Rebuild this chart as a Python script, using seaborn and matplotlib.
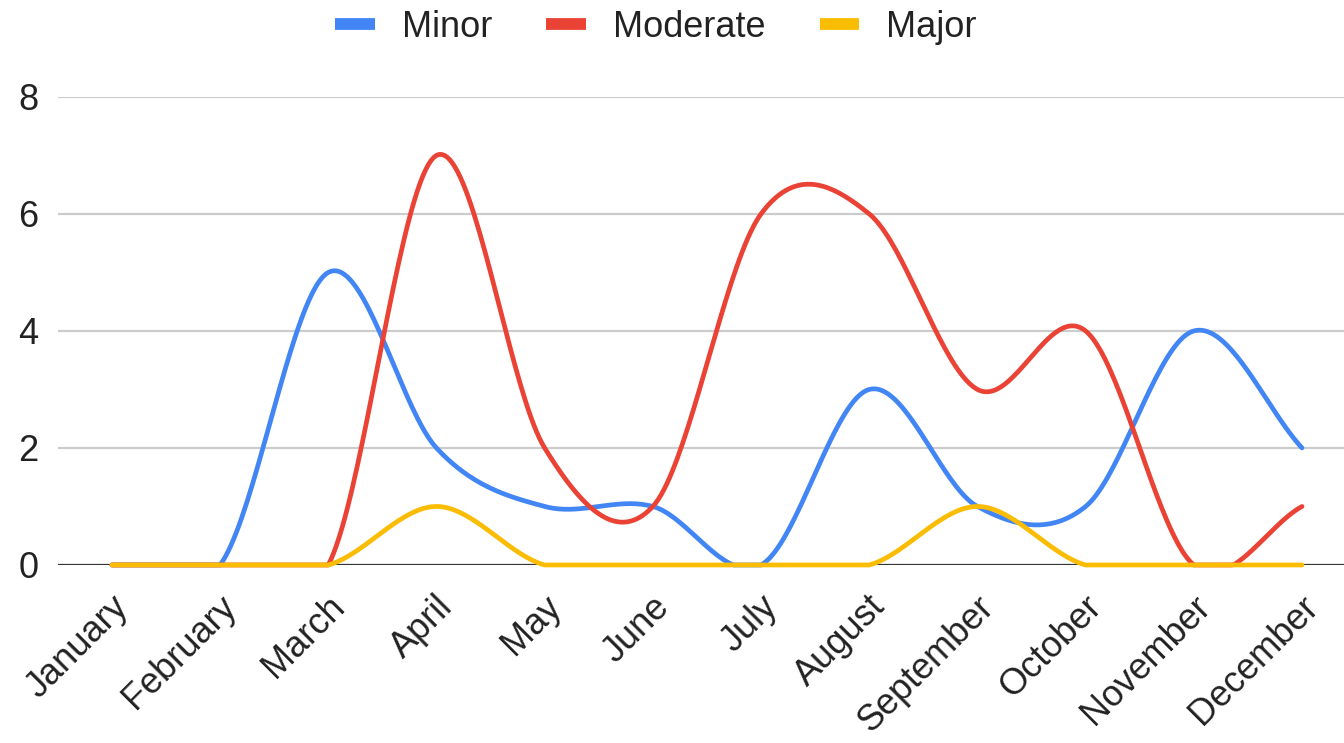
import numpy as np
import pandas as pd
import seaborn as sns
import matplotlib.pyplot as plt
import matplotlib.transforms as mtransforms
from matplotlib.lines import Line2D

# data
months = ['January', 'February', 'March', 'April', 'May', 'June',
          'July', 'August', 'September', 'October', 'November', 'December']
minor = [0, 0, 5, 2, 1, 1, 0, 3, 1, 1, 4, 2]
moderate = [0, 0, 0, 7, 2, 1, 6, 6, 3, 4, 0, 1]
major = [0, 0, 0, 1, 0, 0, 0, 0, 1, 0, 0, 0]
yticks = [0, 2, 4, 6, 8]

series = {'Minor': minor, 'Moderate': moderate, 'Major': major}
colors = {'Minor': '#4285F4', 'Moderate': '#EA4335', 'Major': '#FBBC04'}


def smooth(vals, steps=40):
    # Catmull-Rom style curve through the points, clipped at the baseline
    y = np.asarray(vals, dtype=float)
    n = len(y)
    m = np.zeros(n)
    m[1:-1] = (y[2:] - y[:-2]) / 2
    m[0] = y[1] - y[0]
    m[-1] = y[-1] - y[-2]
    xs, ys = [], []
    for i in range(n - 1):
        t = np.linspace(0, 1, steps, endpoint=False)
        h00 = 2 * t**3 - 3 * t**2 + 1
        h10 = t**3 - 2 * t**2 + t
        h01 = -2 * t**3 + 3 * t**2
        h11 = t**3 - t**2
        xs.extend(i + t)
        ys.extend(h00 * y[i] + h10 * m[i] + h01 * y[i + 1] + h11 * m[i + 1])
    xs.append(n - 1)
    ys.append(y[-1])
    return np.array(xs), np.clip(np.array(ys), 0, None)


frames = []
for name, vals in series.items():
    xs, ys = smooth(vals)
    frames.append(pd.DataFrame({'x': xs, 'y': ys, 'series': name}))
df = pd.concat(frames, ignore_index=True)

sns.set_style('white')
plt.rcParams['font.family'] = ['Liberation Sans', 'DejaVu Sans']

fig = plt.figure(figsize=(13.44, 7.43), dpi=100)
ax = fig.add_axes([0.043, 0.2396, 0.966, 0.63])

for y in yticks[1:]:
    ax.axhline(y, color='#cccccc', lw=1.6, zorder=0)
ax.axhline(0, color='#333333', lw=1.6, zorder=1)

sns.lineplot(data=df, x='x', y='y', hue='series', palette=colors,
             sort=False, estimator=None, lw=3.4, legend=False, ax=ax,
             zorder=3)
for line in ax.lines[-3:]:
    line.set_clip_on(False)

ax.set_xlim(-0.5, 11.5)
ax.set_ylim(0, 8)
ax.tick_params(axis='y', length=0, pad=14)
ax.tick_params(axis='x', length=0, pad=22)
ax.set_yticks(yticks)
ax.set_yticklabels([str(v) for v in yticks], fontsize=26, color='#222222')
ax.set_xticks(range(len(months)))
ax.set_xticklabels(months, rotation=45, ha='right', va='center',
                   rotation_mode='anchor', fontsize=26, color='#222222')
# nudge the slanted month labels right/down like the original
shift = mtransforms.ScaledTranslation(0.11, -0.06, fig.dpi_scale_trans)
for tick in ax.xaxis.get_major_ticks():
    tick.label1.set_transform(tick.label1.get_transform() + shift)
ax.set_xlabel('')
ax.set_ylabel('')
sns.despine(ax=ax, left=True, bottom=True, top=True, right=True)

handles = [Line2D([], [], color=colors[k], lw=8.5, solid_capstyle='butt')
           for k in series]
fig.legend(handles, list(series), loc='center', bbox_to_anchor=(0.488, 0.963),
           ncol=3, frameon=False, fontsize=26, handlelength=1.1,
           handletextpad=0.75, columnspacing=1.5, labelcolor='#222222')

fig.savefig('out.png', dpi=100)
